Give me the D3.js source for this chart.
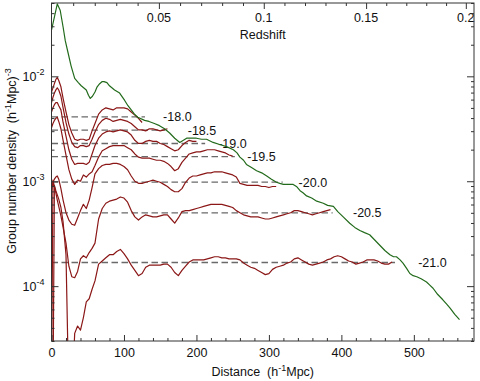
<!DOCTYPE html>
<html>
<head>
<meta charset="utf-8">
<script src="https://cdnjs.cloudflare.com/ajax/libs/d3/7.8.5/d3.min.js"></script>
<style>
html, body { margin:0; padding:0; background:#fff; }
svg { display:block; font-family:"Liberation Sans", Arial, sans-serif; }
</style>
</head>
<body>
<script>
// ---- data -------------------------------------------------------------
// distances (h^-1 Mpc) at which the volume-limited samples are plotted
const distGrid = [0,2,4,6,8,10,13,16,20,24,28,32,36,40,44,48,52,56,60].concat(d3.range(65, 475, 5));

const magLimits = ["-18.0", "-18.5", "-19.0", "-19.5", "-20.0", "-20.5", "-21.0"];

// log10 group number density, one value per distGrid entry (null = empty bin)
const logN_180 = [-2.15,-2.11,-2.07,-2.03,-2.01,-2.04,-2.10,-2.21,-2.34,-2.46,-2.54,-2.60,-2.61,-2.60,-2.60,-2.61,-2.60,-2.52,-2.45,
  -2.36,-2.32,-2.30,-2.31,-2.32,-2.30,-2.30,-2.30,-2.31,-2.34,-2.37,-2.40,-2.44];
const logN_185 = [-2.25,-2.20,-2.16,-2.13,-2.11,-2.13,-2.19,-2.30,-2.44,-2.55,-2.63,-2.67,-2.68,-2.66,-2.66,-2.67,-2.66,-2.60,-2.53,
  -2.46,-2.42,-2.40,-2.41,-2.43,-2.42,-2.41,-2.42,-2.43,-2.45,-2.48,-2.51,-2.51,-2.52,-2.50,-2.50,-2.51,-2.52,-2.51,-2.50];
const logN_190 = [-2.34,-2.30,-2.27,-2.25,-2.25,-2.28,-2.32,-2.44,-2.57,-2.70,-2.79,-2.84,-2.83,-2.83,-2.83,-2.84,-2.82,-2.74,-2.66,
  -2.59,-2.55,-2.53,-2.52,-2.53,-2.52,-2.51,-2.52,-2.53,-2.56,
  -2.61,-2.64,-2.64,-2.62,-2.61,-2.62,-2.62,-2.64,-2.65,-2.67,
  -2.69,-2.71,-2.70,-2.66,-2.63,-2.61,-2.62,-2.62];
const logN_195 = [-2.49,-2.45,-2.42,-2.40,-2.39,-2.43,-2.50,-2.61,-2.75,-2.89,-2.98,-3.03,-2.99,-3.00,-2.94,-2.96,-2.93,-2.91,-2.85,
  -2.77,-2.71,-2.69,-2.67,-2.66,-2.66,-2.66,-2.66,-2.68,-2.70,
  -2.74,-2.77,-2.78,-2.78,-2.78,-2.79,-2.80,-2.80,-2.81,-2.83,
  -2.86,-2.90,-2.88,-2.82,-2.78,-2.74,-2.73,-2.72,-2.72,-2.71,
  -2.70,-2.70,-2.70,-2.71,-2.72,-2.73,-2.75,-2.76];
const logN_200 = [-3.09,-3.01,-2.98,-2.96,-2.95,-2.98,-3.07,-3.18,-3.30,-3.37,-3.41,-3.42,-3.35,-3.28,-3.22,-3.26,-3.18,-3.06,-2.93,
  -2.88,-2.85,-2.84,-2.84,-2.83,-2.83,-2.84,-2.86,-2.89,-2.95,
  -3.00,-3.02,-3.02,-3.01,-3.00,-2.99,-3.00,-3.01,-3.03,-3.05,
  -3.08,-3.10,-3.10,-3.07,-3.01,-2.97,-2.95,-2.95,-2.94,-2.93,
  -2.92,-2.92,-2.91,-2.91,-2.91,-2.92,-2.93,-2.94,-2.96,-3.02,
  -3.03,-3.04,-3.04,-3.04,-3.04,-3.05,-3.05,-3.06,-3.05,-3.05];
const logN_205 = [null,-2.99,-3.05,-3.11,-3.18,-3.24,-3.33,-3.44,-3.59,-3.81,-3.91,-3.92,-3.86,-3.74,-3.71,-3.73,-3.68,-3.64,-3.59,
  -3.36,-3.26,-3.21,-3.19,-3.18,-3.17,-3.15,-3.16,-3.20,-3.28,
  -3.34,-3.37,-3.34,-3.32,-3.33,-3.34,-3.34,-3.33,-3.32,-3.32,
  -3.36,-3.40,-3.35,-3.29,-3.28,-3.28,-3.27,-3.26,-3.25,-3.24,
  -3.23,-3.22,-3.22,-3.22,-3.22,-3.23,-3.24,-3.25,-3.28,-3.30,
  -3.32,-3.33,-3.34,-3.34,-3.34,-3.35,-3.36,-3.36,-3.35,-3.34,
  -3.33,-3.32,-3.31,-3.30,-3.28,-3.28,-3.29,-3.30,-3.31,-3.32,
  -3.31,-3.30,-3.29,-3.28,-3.27];
const logN_210 = [null,null,-3.04,-3.09,-3.13,-3.17,-3.25,-3.39,-3.70,null,null,-4.45,-4.38,-4.42,-4.30,-4.15,-4.12,-4.03,-3.95,
  -3.79,-3.76,-3.73,-3.70,-3.70,-3.67,-3.65,-3.69,-3.74,-3.80,
  -3.85,-3.90,-3.88,-3.82,-3.80,-3.80,-3.80,-3.80,-3.79,-3.79,
  -3.82,-3.87,-3.90,-3.85,-3.81,-3.77,-3.75,-3.75,-3.75,-3.75,
  -3.74,-3.73,-3.72,-3.72,-3.73,-3.73,-3.74,-3.74,-3.74,-3.75,
  -3.78,-3.80,-3.82,-3.83,-3.85,-3.87,-3.89,-3.88,-3.84,-3.82,
  -3.81,-3.80,-3.78,-3.77,-3.74,-3.73,-3.75,-3.77,-3.79,-3.80,
  -3.79,-3.78,-3.77,-3.75,-3.74,-3.72,-3.71,-3.72,-3.74,-3.76,
  -3.77,-3.79,-3.78,-3.77,-3.75,-3.75,-3.75,-3.76,-3.78,-3.79,
  -3.79,-3.77];

// all groups: [distance, log10 density]
const totalN = [[0,-1.56],[8,-1.31],[12,-1.37],[16,-1.53],[19,-1.66],[23,-1.78],[27,-1.90],[32,-2.02],[37,-2.06],[41,-2.09],
  [48,-2.13],[51,-2.18],[53.5,-2.21],[56.5,-2.19],[60,-2.15],[63,-2.10],[66.5,-2.07],[70,-2.05],[72.5,-2.05],[76.5,-2.06],
  [80,-2.09],[87,-2.13],[94,-2.16],[101,-2.23],[105.5,-2.28],[110,-2.32],[114.5,-2.36],[119,-2.39],[128.5,-2.42],[134.5,-2.43],
  [142,-2.45],[149,-2.47],[156,-2.50],[163,-2.54],[170,-2.59],[177,-2.63],[182,-2.61],[186.5,-2.59],[192,-2.59],[200,-2.59],
  [207,-2.60],[214,-2.60],[223,-2.63],[232,-2.65],[241.5,-2.67],[251,-2.70],[256,-2.73],[260,-2.77],[265,-2.80],[269,-2.84],
  [276,-2.87],[283,-2.90],[290,-2.92],[297,-2.95],[303.5,-2.98],[310.5,-3.01],[315,-3.02],[320,-3.03],[326,-3.03],[333.5,-3.03],
  [338,-3.05],[343,-3.09],[347,-3.11],[352,-3.14],[359,-3.16],[366,-3.19],[375,-3.21],[381,-3.23],[389,-3.24],[395,-3.29],
  [402.5,-3.34],[411.5,-3.40],[418.5,-3.44],[425.5,-3.47],[432,-3.49],[439,-3.51],[446,-3.56],[453,-3.61],[460,-3.66],[467,-3.70],
  [472,-3.72],[476,-3.72],[481,-3.75],[485,-3.78],[490,-3.83],[494.5,-3.88],[499,-3.90],[504,-3.91],[510,-3.93],[517.5,-3.96],
  [522,-3.99],[526.5,-4.02],[533,-4.08],[540,-4.13],[545,-4.17],[550,-4.21],[556.5,-4.27],[563,-4.32]];

// mean density of each sample (dashed lines) and where they stop
const meanDensity = [4.1e-3, 3.07e-3, 2.29e-3, 1.72e-3, 9.8e-4, 5.0e-4, 1.68e-4];
const meanEnd = [129, 157, 212, 253, 319, 388, 474];
const labelAt = [154, 188, 230, 270, 341, 416, 506];

const distTicks = [0, 100, 200, 300, 400, 500];
const redshiftTicks = [0.05, 0.1, 0.15, 0.2];
const redshiftLabels = ["0.05", "0.1", "0.15", "0.2"];
const densTicks = [1e-4, 1e-3, 1e-2];
const densExp = ["-4", "-3", "-2"];

// ---- chart -------------------------------------------------------------
const W = 480, H = 381;
const m = {top: 3, left: 51.5};
const iw = 422.5, ih = 338;
const red = "#8b1717", green = "#236b1c";

const svg = d3.select("body").append("svg").attr("width", W).attr("height", H);
const g = svg.append("g").attr("transform", `translate(${m.left},${m.top})`);

const x = d3.scaleLinear().domain([0, 583]).range([0, iw]);
const y = d3.scaleLog().domain([3e-5, 0.05]).range([ih, 0]);

// comoving distance (h^-1 Mpc) for flat Om=0.3, used for the redshift axis
function comoving(z) {
  const n = 200;
  let s = 0;
  for (let i = 0; i < n; i++) {
    const zz = (i + 0.5) * z / n;
    s += 1 / Math.sqrt(0.3 * Math.pow(1 + zz, 3) + 0.7);
  }
  return 2997.92 * s * z / n;
}

svg.append("clipPath").attr("id", "plotclip")
  .append("rect").attr("width", iw).attr("height", ih);

const yv = v => v == null ? ih + 60 : y(Math.pow(10, v));
const line = d3.line().x(d => x(d[0])).y(d => yv(d[1]));

const series = [logN_180, logN_185, logN_190, logN_195, logN_200, logN_205, logN_210];

// dashed mean levels
g.append("g").selectAll("line").data(meanDensity).join("line")
  .attr("x1", x(0)).attr("x2", (d, i) => x(meanEnd[i]))
  .attr("y1", d => y(d)).attr("y2", d => y(d))
  .attr("stroke", "#6a6a6a").attr("stroke-width", 1.3)
  .attr("stroke-dasharray", "6.5,3.5");

// magnitude labels
g.append("g").selectAll("text").data(magLimits).join("text")
  .attr("x", (d, i) => x(labelAt[i]))
  .attr("y", (d, i) => y(meanDensity[i]))
  .attr("dy", "0.36em")
  .attr("font-size", 12.5).attr("fill", "#111")
  .text(d => d);

const plot = g.append("g").attr("clip-path", "url(#plotclip)");

plot.selectAll("path.mag").data(series).join("path")
  .attr("class", "mag")
  .attr("d", s => line(s.map((v, i) => [distGrid[i], v])))
  .attr("fill", "none").attr("stroke", red).attr("stroke-width", 1.2)
  .attr("stroke-linejoin", "round");

plot.append("path")
  .attr("d", line(totalN))
  .attr("fill", "none").attr("stroke", green).attr("stroke-width", 1.2)
  .attr("stroke-linejoin", "round");

// ---- axes --------------------------------------------------------------
function clean(sel) { sel.select(".domain").remove(); sel.selectAll("line").attr("stroke", "#333"); }

const minorDist = d3.range(0, 583, 20).filter(d => d % 100 !== 0);
g.append("g").attr("transform", `translate(0,${ih})`)
  .call(d3.axisBottom(x).tickValues(distTicks).tickSize(-6).tickPadding(7))
  .call(clean)
  .call(s => s.selectAll("text").attr("font-size", 12.5).attr("fill", "#111").attr("font-family", null));
g.append("g").attr("transform", `translate(0,${ih})`)
  .call(d3.axisBottom(x).tickValues(minorDist).tickSize(-3).tickFormat(""))
  .call(clean);

const minorZ = d3.range(1, 21).map(i => i / 100).filter(z => !redshiftTicks.some(t => Math.abs(t - z) < 1e-9));
g.append("g")
  .call(d3.axisTop(x).tickValues(redshiftTicks.map(comoving)).tickSize(-6).tickFormat(""))
  .call(clean);
g.append("g")
  .call(d3.axisTop(x).tickValues(minorZ.map(comoving)).tickSize(-3).tickFormat(""))
  .call(clean);
g.append("g").selectAll("text").data(redshiftTicks).join("text")
  .attr("x", d => x(comoving(d))).attr("y", 18.5)
  .attr("text-anchor", "middle").attr("font-size", 12.5).attr("fill", "#111")
  .text((d, i) => redshiftLabels[i]);
g.append("text").attr("x", iw / 2).attr("y", 35.5)
  .attr("text-anchor", "middle").attr("font-size", 12.5).attr("fill", "#111")
  .text("Redshift");

const minorDens = [];
[-5, -4, -3, -2].forEach(e => { for (let k = 2; k <= 9; k++) { const v = k * Math.pow(10, e); if (v >= 3e-5 && v <= 0.05) minorDens.push(v); } });
[[d3.axisLeft, 0], [d3.axisRight, iw]].forEach(([ax, tx]) => {
  g.append("g").attr("transform", `translate(${tx},0)`)
    .call(ax(y).tickValues(densTicks).tickSize(-7).tickFormat(""))
    .call(clean);
  g.append("g").attr("transform", `translate(${tx},0)`)
    .call(ax(y).tickValues(minorDens).tickSize(-3).tickFormat(""))
    .call(clean);
});

const yl = g.append("g").selectAll("text").data(densTicks).join("text")
  .attr("x", -7).attr("y", d => y(d) + 5)
  .attr("text-anchor", "end").attr("font-size", 12.5).attr("fill", "#111");
yl.append("tspan").text("10");
yl.append("tspan").attr("dy", -6).attr("font-size", 9).text((d, i) => densExp[i]);

g.append("rect").attr("width", iw).attr("height", ih)
  .attr("fill", "none").attr("stroke", "#333").attr("stroke-width", 1);

// axis titles
const xt = svg.append("text").attr("x", m.left + iw / 2).attr("y", 376)
  .attr("text-anchor", "middle").attr("font-size", 12.5).attr("fill", "#111")
  .style("white-space", "pre");
xt.append("tspan").text("Distance  (h");
xt.append("tspan").attr("dy", -5).attr("font-size", 9).text("-1");
xt.append("tspan").attr("dy", 5).text("Mpc)");

const yt = svg.append("text").attr("transform", "translate(16,161) rotate(-90)")
  .attr("text-anchor", "middle").attr("font-size", 12.5).attr("fill", "#111")
  .style("white-space", "pre");
yt.append("tspan").text("Group number density  (h");
yt.append("tspan").attr("dy", -5).attr("font-size", 9).text("-1");
yt.append("tspan").attr("dy", 5).text("Mpc)");
yt.append("tspan").attr("dy", -5).attr("font-size", 9).text("-3");
</script>
</body>
</html>
